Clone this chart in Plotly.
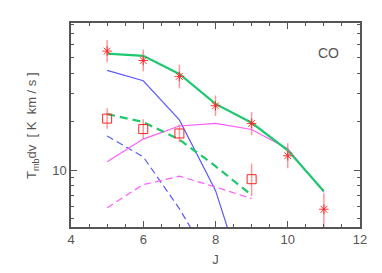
import plotly.graph_objects as go

J_obs = [5, 6, 7, 8, 9, 10, 11]
co_obs = [54.8, 47.9, 38.2, 25.1, 19.5, 12.3, 5.73]
co_err_up = [9.5, 8.0, 7.0, 4.0, 3.5, 2.4, 1.45]
co_err_dn = [8.0, 6.8, 6.0, 3.4, 3.0, 2.0, 1.45]

J_sq = [5, 6, 7, 9]
sq_obs = [20.9, 18.0, 16.9, 8.8]
sq_err_up = [3.3, 2.7, 2.3, 2.2]
sq_err_dn = [2.8, 2.4, 2.0, 1.9]

J_mod = [5, 6, 7, 8, 9, 10, 11]
green_solid = [52.8, 51.2, 39.5, 25.8, 19.7, 13.3, 7.4]
magenta_solid = [11.3, 15.6, 18.8, 19.5, 17.9, 13.6, 7.3]
J_blue = [5, 6, 7, 8, 9]
blue_solid = [41.6, 35.9, 20.5, 7.5, 1.5]

J_dash = [5, 6, 7, 8, 9]
green_dash = [22.3, 19.9, 15.5, 10.6, 7.0]
magenta_dash = [5.86, 8.15, 9.18, 7.87, 6.67]
J_bdash = [5, 6, 7, 8]
blue_dash = [16.3, 12.1, 5.78, 2.4]

GREEN = "#1ec86e"
BLUE = "#5a5aff"
MAG = "#ff5cff"
RED = "#ff2020"
ERR = "rgba(255,110,110,0.7)"

fig = go.Figure()

fig.add_trace(go.Scatter(x=J_blue, y=blue_solid, mode="lines",
                         line=dict(color=BLUE, width=1.2)))
fig.add_trace(go.Scatter(x=J_bdash, y=blue_dash, mode="lines",
                         line=dict(color=BLUE, width=1.2, dash="7px,4px")))
fig.add_trace(go.Scatter(x=J_dash, y=magenta_dash, mode="lines",
                         line=dict(color=MAG, width=1.2, dash="7px,4px")))
fig.add_trace(go.Scatter(x=J_mod, y=magenta_solid, mode="lines",
                         line=dict(color=MAG, width=1.2)))
fig.add_trace(go.Scatter(x=J_dash, y=green_dash, mode="lines",
                         line=dict(color=GREEN, width=2.2, dash="8px,5px")))
fig.add_trace(go.Scatter(x=J_mod, y=green_solid, mode="lines",
                         line=dict(color=GREEN, width=2.2)))

fig.add_trace(go.Scatter(
    x=J_sq, y=sq_obs, mode="markers",
    marker=dict(symbol="square-open", size=9, color=RED, line=dict(width=1)),
    error_y=dict(type="data", symmetric=False, array=sq_err_up, arrayminus=sq_err_dn,
                 color=ERR, thickness=1.5, width=0)))
fig.add_trace(go.Scatter(
    x=J_obs, y=co_obs, mode="markers",
    marker=dict(symbol="asterisk-open", size=8, color=RED, line=dict(width=0.9, color=RED)),
    error_y=dict(type="data", symmetric=False, array=co_err_up, arrayminus=co_err_dn,
                 color=ERR, thickness=1.5, width=0),
    cliponaxis=True))

fig.add_annotation(x=0.935, y=0.855, xref="paper", yref="paper", text="CO",
                   showarrow=False, font=dict(size=14, color="#555"),
                   xanchor="right", yanchor="middle")

fig.add_annotation(x=-0.135, y=0.5, xref="paper", yref="paper",
                   text="T<sub>mb</sub>dv  [ K  km / s ]", textangle=-90,
                   showarrow=False, font=dict(size=13, color="#555"),
                   xanchor="center", yanchor="middle")

AX = "#555"
fig.update_layout(
    width=374, height=265,
    margin=dict(l=63, r=22, t=15, b=46, autoexpand=False),
    paper_bgcolor="white", plot_bgcolor="white",
    showlegend=False,
    font=dict(family="Liberation Sans, Arial, sans-serif", size=13, color=AX),
    xaxis=dict(range=[4, 12], tickvals=[4, 6, 8, 10, 12], ticks="inside", ticklen=6,
               tickcolor=AX, showline=True, linecolor=AX, linewidth=1.5, mirror="ticks",
               showgrid=False, zeroline=False, automargin=False,
               minor=dict(dtick=0.5, ticks="inside", ticklen=3, tickcolor=AX),
               title=dict(text="J", standoff=9, font=dict(size=13))),
    yaxis=dict(type="log", range=[0.648, 1.913], tickvals=[10], ticktext=["10"],
               ticks="inside", ticklen=6, tickcolor=AX, showline=True, linecolor=AX,
               linewidth=1.5, mirror="ticks", showgrid=False, zeroline=False,
               automargin=False,
               minor=dict(tickvals=[5, 6, 7, 8, 9, 20, 30, 40, 50, 60, 70, 80],
                          ticks="inside", ticklen=3, tickcolor=AX)),
)

fig.write_html("out.html")
